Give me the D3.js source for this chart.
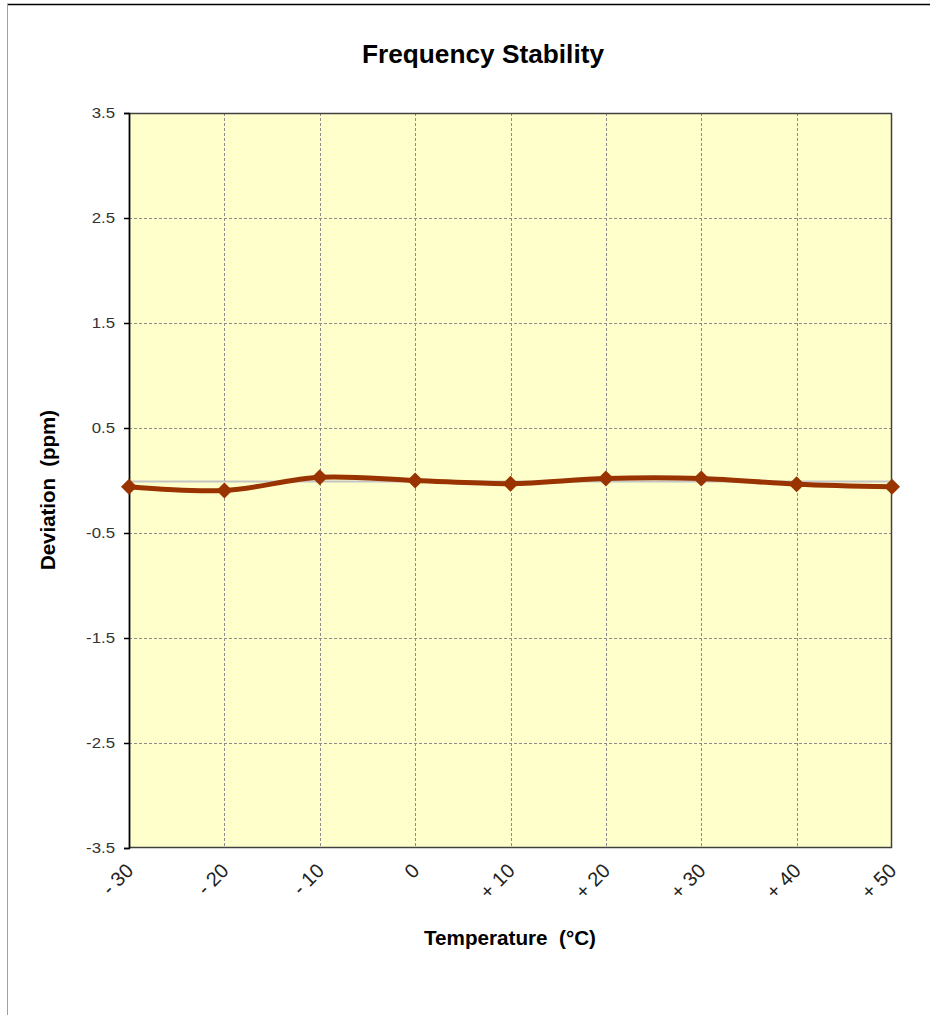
<!DOCTYPE html>
<html><head><meta charset="utf-8">
<script src="https://cdn.jsdelivr.net/npm/d3@7"></script>
<style>
html,body{margin:0;padding:0;background:#fff;}
svg{display:block;font-family:"Liberation Sans",Arial,sans-serif;}
.pre{white-space:pre;}
</style></head>
<body>
<svg id="c" width="930" height="1015"></svg>
<script>
const categories = ["- 30","- 20","- 10","0","+ 10","+ 20","+ 30","+ 40","+ 50"];
const deviation = [-0.06,-0.095,0.03,0.0,-0.03,0.02,0.02,-0.035,-0.06];
const yTicks = [3.5,2.5,1.5,0.5,-0.5,-1.5,-2.5,-3.5];
const yTickLabels = ["3.5","2.5","1.5","0.5","-0.5","-1.5","-2.5","-3.5"];
const titleText = "Frequency Stability";
const xTitle = "Temperature  (°C)";
const yTitle = "Deviation  (ppm)";

const svg = d3.select("#c");
const L=129, R=892, T=113, B=848;

// outer frame
svg.append("line").attr("x1",7).attr("x2",930).attr("y1",4.5).attr("y2",4.5).attr("stroke","#000").attr("stroke-width",1.5);
svg.append("line").attr("x1",7.5).attr("x2",7.5).attr("y1",4).attr("y2",1015).attr("stroke","#a0a0a0").attr("stroke-width",1);

const x = d3.scalePoint().domain(categories).range([L,R]);
const y = d3.scaleLinear().domain([-3.5,3.5]).range([B,T]);

svg.append("rect").attr("x",L).attr("y",T).attr("width",R-L).attr("height",B-T).attr("fill","#FFFFCC");

// grid
const g = svg.append("g");
g.selectAll("line.h").data(yTicks.filter(v=>v!==3.5 && v!==-3.5)).enter().append("line")
  .attr("x1",L).attr("x2",R).attr("y1",d=>Math.round(y(d))+0.5).attr("y2",d=>Math.round(y(d))+0.5)
  .attr("stroke","#8c8c8c").attr("stroke-dasharray","3,2").attr("stroke-width",1);
g.selectAll("line.v").data(categories.slice(1,-1)).enter().append("line")
  .attr("y1",T).attr("y2",B).attr("x1",d=>Math.round(x(d))+0.5).attr("x2",d=>Math.round(x(d))+0.5)
  .attr("stroke","#8c8c8c").attr("stroke-dasharray","3,2").attr("stroke-width",1);
// zero line
svg.append("line").attr("x1",L).attr("x2",R).attr("y1",Math.round(y(0))+0.5).attr("y2",Math.round(y(0))+0.5)
  .attr("stroke","#c4c4c4").attr("stroke-width",2);

// plot border
svg.append("rect").attr("x",L+0.5).attr("y",T+0.5).attr("width",R-L-1).attr("height",B-T-1)
  .attr("fill","none").attr("stroke","#404040").attr("stroke-width",1.5);

// y axis
const yAxis = d3.axisLeft(y).tickValues(yTicks).tickFormat((d,i)=>yTickLabels[i]).tickSize(5).tickPadding(9);
const ya = svg.append("g").attr("transform",`translate(${L},0)`).call(yAxis);
ya.select(".domain").attr("stroke","#000").attr("stroke-width",1.5);
ya.selectAll(".tick line").attr("stroke","#000").attr("stroke-width",1.5);
ya.selectAll(".tick text").attr("font-size",15).attr("fill","#333").attr("font-family","'Liberation Sans',Arial,sans-serif")
  .each(function(){ const w=this.getComputedTextLength(); d3.select(this).attr("textLength",w*1.12).attr("lengthAdjust","spacingAndGlyphs"); });

// x axis
const xAxis = d3.axisBottom(x).tickSize(0).tickPadding(0);
const xa = svg.append("g").attr("transform",`translate(0,${B})`).call(xAxis);
xa.select(".domain").remove();
xa.selectAll(".tick text")
  .attr("font-size",20).attr("fill","#222").attr("font-family","'Liberation Sans',Arial,sans-serif")
  .attr("text-anchor","end").attr("dy",null).attr("y",null)
  .attr("transform","translate(5,24) rotate(-45)");

// line
const line = d3.line().x((d,i)=>x(categories[i])).y(d=>y(d)).curve(d3.curveCardinal.tension(0));
svg.append("path").datum(deviation).attr("d",line).attr("fill","none").attr("stroke","#993300").attr("stroke-width",5).attr("stroke-linejoin","round");

// markers
const r = 8;
svg.selectAll("path.m").data(deviation).enter().append("path")
  .attr("d",(d,i)=>{const cx=x(categories[i]), cy=y(d); return `M${cx},${cy-r}L${cx+r},${cy}L${cx},${cy+r}L${cx-r},${cy}Z`;})
  .attr("fill","#993300");

// titles
svg.append("text").attr("x",483).attr("y",63).attr("text-anchor","middle").attr("font-weight","bold").attr("font-size",25)
  .attr("textLength",242).attr("lengthAdjust","spacingAndGlyphs").attr("fill","#000").text(titleText);
svg.append("text").attr("class","pre").attr("x",510).attr("y",945).attr("text-anchor","middle").attr("font-weight","bold").attr("font-size",20)
  .attr("textLength",172).attr("lengthAdjust","spacingAndGlyphs").attr("fill","#000").text(xTitle);
svg.append("text").attr("class","pre").attr("transform","translate(55,490) rotate(-90)").attr("text-anchor","middle").attr("font-weight","bold").attr("font-size",20)
  .attr("textLength",160).attr("lengthAdjust","spacingAndGlyphs").attr("fill","#000").text(yTitle);
</script>
</body></html>
